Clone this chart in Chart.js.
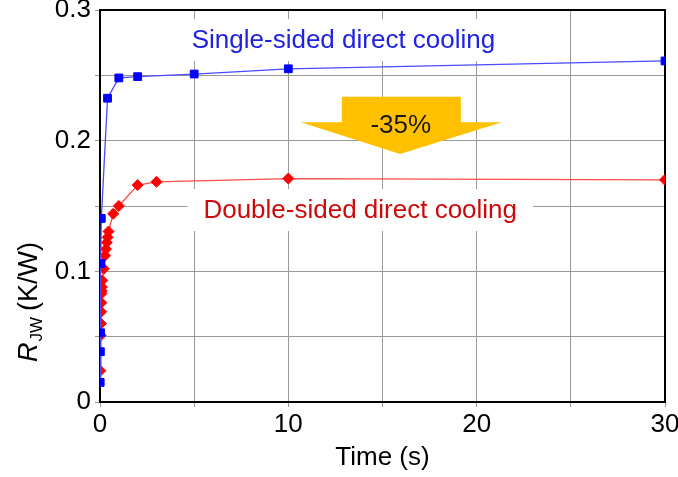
<!DOCTYPE html>
<html>
<head>
<meta charset="utf-8">
<script src="https://cdn.jsdelivr.net/npm/chart.js@4"></script>
<style>
  html, body { margin: 0; padding: 0; background: #fff; }
  #wrap { width: 678px; height: 477px; }
</style>
</head>
<body>
<div id="wrap"><canvas id="chart" width="678" height="477"></canvas></div>
<script>
// values
const singleTime = [0.01, 0.02, 0.03, 0.05, 0.07, 0.4, 1, 2, 5, 10, 30];
const singleRjw = [0.015, 0.0385, 0.053, 0.106, 0.1405, 0.2325, 0.248, 0.249, 0.251, 0.255, 0.261];

const doubleTime = [0.02, 0.04, 0.05, 0.06, 0.07, 0.08, 0.09, 0.1, 0.12, 0.2, 0.27, 0.32, 0.36, 0.4, 0.45, 0.7, 1, 2, 3, 10, 30];
const doubleRjw = [0.024, 0.051, 0.060, 0.069, 0.076, 0.083, 0.085, 0.088, 0.093, 0.102, 0.112, 0.117, 0.122, 0.126, 0.1305, 0.144, 0.150, 0.166, 0.1685, 0.171, 0.170];

const xTickLabels = [0, 10, 20, 30];
const yTickLabels = [0, 0.1, 0.2, 0.3];

const FONT = "'Liberation Sans', Arial, sans-serif";

function toPoints(xs, ys) {
    return xs.map((x, i) => ({ x: x, y: ys[i] }));
}

// text boxes, arrow and frame drawn over the grid
const annotations = {
    id: "annotations",
    beforeDatasetsDraw(chart) {
        const ctx = chart.ctx;
        const xs = chart.scales.x;
        const ys = chart.scales.y;
        const area = chart.chartArea;
        const px = (v) => xs.getPixelForValue(v);
        const py = (v) => ys.getPixelForValue(v);

        ctx.save();
        ctx.font = "26px " + FONT;
        ctx.textBaseline = "alphabetic";

        function label(text, x, y, color) {
            const left = px(x);
            const base = py(y);
            const w = ctx.measureText(text).width;
            ctx.fillStyle = "#fff";
            ctx.fillRect(left - 16, base - 29, w + 32, 42);
            ctx.fillStyle = color;
            ctx.textAlign = "left";
            ctx.fillText(text, left, base);
        }
        label("Single-sided direct cooling", 4.87, 0.2709, "#1f22e0");
        label("Double-sided direct cooling", 5.49, 0.1408, "#cc0a0a");

        // -35% arrow
        ctx.fillStyle = "#ffc000";
        ctx.beginPath();
        ctx.moveTo(px(12.84), py(0.2336));
        ctx.lineTo(px(19.16), py(0.2336));
        ctx.lineTo(px(19.16), py(0.2141));
        ctx.lineTo(px(21.33), py(0.2141));
        ctx.lineTo(px(15.93), py(0.1898));
        ctx.lineTo(px(10.66), py(0.2141));
        ctx.lineTo(px(12.84), py(0.2141));
        ctx.closePath();
        ctx.fill();
        ctx.fillStyle = "#1a1a1a";
        ctx.textAlign = "center";
        ctx.fillText("-35%", px(15.97), py(0.2059));

        // frame
        ctx.strokeStyle = "#000";
        ctx.lineWidth = 2;
        ctx.strokeRect(area.left, area.top, area.right - area.left, area.bottom - area.top);

        // y axis title R_JW (K/W)
        ctx.translate(37, 362);
        ctx.rotate(-Math.PI / 2);
        ctx.fillStyle = "#000";
        ctx.textAlign = "left";
        ctx.font = "italic 27px " + FONT;
        ctx.fillText("R", 0, 0);
        let off = ctx.measureText("R").width + 1;
        ctx.font = "17px " + FONT;
        ctx.fillText("JW", off, 5);
        off += ctx.measureText("JW").width + 6;
        ctx.font = "27px " + FONT;
        ctx.fillText("(K/W)", off, 0);
        ctx.restore();
    },
};

const ctx = document.getElementById("chart").getContext("2d");

new Chart(ctx, {
    type: "scatter",
    data: {
        datasets: [
            {
                label: "Single-sided direct cooling",
                data: toPoints(singleTime, singleRjw),
                showLine: true,
                borderColor: "#4a4aff",
                borderWidth: 1.3,
                pointStyle: "rect",
                pointRadius: 5.5,
                pointBackgroundColor: "#0000ff",
                pointBorderColor: "#0000ff",
                pointBorderWidth: 1,
            },
            {
                label: "Double-sided direct cooling",
                data: toPoints(doubleTime, doubleRjw),
                showLine: true,
                borderColor: "#ff4a4a",
                borderWidth: 1.3,
                pointStyle: "rectRot",
                pointRadius: 5.5,
                pointBackgroundColor: "#ff0000",
                pointBorderColor: "#ff0000",
                pointBorderWidth: 1,
            },
        ],
    },
    options: {
        responsive: false,
        animation: false,
        layout: { padding: { top: 10, right: 13, left: 0, bottom: 0 } },
        plugins: {
            legend: { display: false },
            tooltip: { enabled: false },
        },
        scales: {
            x: {
                type: "linear",
                min: 0,
                max: 30,
                ticks: {
                    stepSize: 5,
                    color: "#000",
                    padding: 2,
                    maxRotation: 0,
                    font: { size: 26, family: FONT },
                    callback: (v) => (xTickLabels.includes(v) ? String(v) : ""),
                },
                grid: { color: "#9a9a9a", lineWidth: 1, tickLength: 5 },
                border: { display: false },
                title: {
                    display: true,
                    text: "Time (s)",
                    color: "#000",
                    font: { size: 26, family: FONT },
                    padding: { top: 0, bottom: 4 },
                },
                afterFit: (s) => {
                    s.height = 75;
                    s.paddingLeft = 0;
                    s.paddingRight = 0;
                },
            },
            y: {
                type: "linear",
                min: 0,
                max: 0.3,
                ticks: {
                    stepSize: 0.05,
                    color: "#000",
                    padding: 4,
                    font: { size: 26, family: FONT },
                    callback: (v) => {
                        const hit = yTickLabels.find((t) => Math.abs(t - v) < 1e-6);
                        return hit === undefined ? "" : String(hit);
                    },
                },
                grid: { color: "#9a9a9a", lineWidth: 1, tickLength: 5 },
                border: { display: false },
                afterFit: (s) => {
                    s.width = 100;
                    s.paddingTop = 0;
                    s.paddingBottom = 0;
                },
            },
        },
    },
    plugins: [annotations],
});
</script>
</body>
</html>
